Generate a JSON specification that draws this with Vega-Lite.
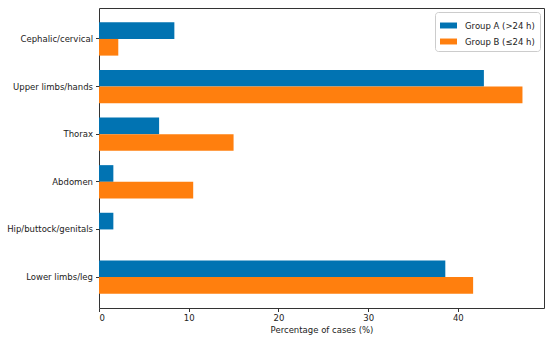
{
  "$schema": "https://vega.github.io/schema/vega-lite/v6.json",
  "width": 445,
  "height": 300,
  "autosize": {"type": "none"},
  "padding": {"left": 99, "top": 8, "right": 6, "bottom": 32},
  "background": "white",
  "config": {
    "font": "DejaVu Sans",
    "view": {"stroke": "#333333", "strokeWidth": 1},
    "axis": {"labelFont": "DejaVu Sans", "titleFont": "DejaVu Sans", "labelColor": "#222222", "titleColor": "#222222", "domainColor": "#333333", "tickColor": "#333333", "grid": false}
  },
  "data": {
    "values": [
      {"region": "Cephalic/cervical", "group": "Group A (>24 h)", "pct": 8.4},
      {"region": "Cephalic/cervical", "group": "Group B (≤24 h)", "pct": 2.15},
      {"region": "Upper limbs/hands", "group": "Group A (>24 h)", "pct": 42.9},
      {"region": "Upper limbs/hands", "group": "Group B (≤24 h)", "pct": 47.2},
      {"region": "Thorax", "group": "Group A (>24 h)", "pct": 6.7},
      {"region": "Thorax", "group": "Group B (≤24 h)", "pct": 15.0},
      {"region": "Abdomen", "group": "Group A (>24 h)", "pct": 1.6},
      {"region": "Abdomen", "group": "Group B (≤24 h)", "pct": 10.5},
      {"region": "Hip/buttock/genitals", "group": "Group A (>24 h)", "pct": 1.6},
      {"region": "Hip/buttock/genitals", "group": "Group B (≤24 h)", "pct": 0},
      {"region": "Lower limbs/leg", "group": "Group A (>24 h)", "pct": 38.6},
      {"region": "Lower limbs/leg", "group": "Group B (≤24 h)", "pct": 41.7}
    ]
  },
  "mark": {"type": "bar"},
  "encoding": {
    "y": {
      "field": "region",
      "type": "nominal",
      "sort": ["Cephalic/cervical", "Upper limbs/hands", "Thorax", "Abdomen", "Hip/buttock/genitals", "Lower limbs/leg"],
      "scale": {"paddingInner": 0.3, "paddingOuter": 0.3},
      "axis": {"title": null, "labelFontSize": 8.5, "tickSize": 3.5, "labelPadding": 3, "domain": false}
    },
    "yOffset": {
      "field": "group",
      "type": "nominal",
      "sort": ["Group A (>24 h)", "Group B (≤24 h)"],
      "scale": {"paddingInner": 0, "paddingOuter": 0}
    },
    "x": {
      "field": "pct",
      "type": "quantitative",
      "scale": {"domain": [0, 49.6], "nice": false},
      "axis": {"title": "Percentage of cases (%)", "values": [0, 10, 20, 30, 40], "labelFontSize": 8.5, "titleFontSize": 8.5, "titleFontWeight": "normal", "tickSize": 3.5, "labelPadding": 2, "titlePadding": 3, "domain": false}
    },
    "color": {
      "field": "group",
      "type": "nominal",
      "sort": ["Group A (>24 h)", "Group B (≤24 h)"],
      "scale": {"range": ["#0173b2", "#ff7f0e"]},
      "legend": {
        "title": null,
        "orient": "top-right",
        "offset": 4,
        "fillColor": "white",
        "strokeColor": "#cccccc",
        "cornerRadius": 3,
        "padding": 5,
        "labelFontSize": 8.5,
        "labelColor": "#222222",
        "symbolType": "M-1,-0.35H1V0.35H-1Z",
        "symbolSize": 289,
        "symbolStrokeWidth": 0,
        "symbolOpacity": 1,
        "rowPadding": 3,
        "labelOffset": 8
      }
    }
  }
}
